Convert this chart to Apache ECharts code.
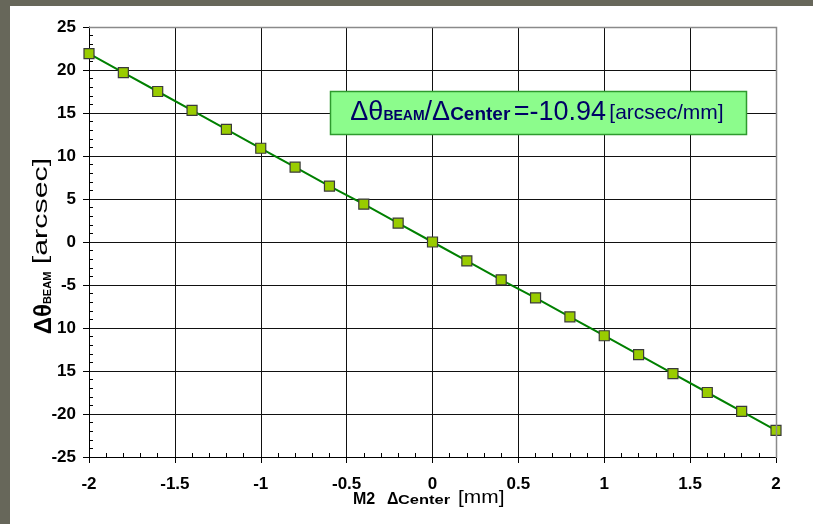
<!DOCTYPE html>
<html lang="en">
<head>
    <meta charset="UTF-8">
    <title>M2 center vs beam angle</title>
    <style>
        html, body { margin: 0; padding: 0; background: #67675a; }
    </style>
</head>
<body>
<div id="main" style="width: 813px;height:524px;"></div>
</body>
<script src="https://cdn.jsdelivr.net/npm/echarts@6/dist/echarts.min.js"></script>
<script type="text/javascript">
    // data
    var xValues = [-2, -1.8, -1.6, -1.4, -1.2, -1, -0.8, -0.6, -0.4, -0.2, 0,
        0.2, 0.4, 0.6, 0.8, 1, 1.2, 1.4, 1.6, 1.8, 2];
    var yValues = [21.9, 19.7, 17.5, 15.3, 13.1, 10.9, 8.7, 6.5, 4.4, 2.2, 0,
        -2.2, -4.4, -6.5, -8.7, -10.9, -13.1, -15.3, -17.5, -19.7, -21.9];
    // tick labels as printed (two minus signs are missing in the original)
    var yTickValues = [25, 20, 15, 10, 5, 0, -5, -10, -15, -20, -25];
    var yTickLabels = ['25', '20', '15', '10', '5', '0', '-5', '10', '15', '-20', '-25'];
    var slopeText = '-10.94';

    var points = [];
    for (var i = 0; i < xValues.length; i++) {
        points.push([xValues[i], yValues[i]]);
    }

    var myChart = echarts.init(document.getElementById('main'));
    var navy = '#000066';
    var ff = 'Liberation Sans';

    // small helper for a plain graphic text
    function label(txt, x, y, size, bold, opts) {
        var el = {
            type: 'text', x: x, y: y, z: 20,
            style: {
                text: txt, fontFamily: ff, fontSize: size,
                fontWeight: bold ? 'bold' : 'normal',
                fill: '#000', align: 'left', verticalAlign: 'middle'
            }
        };
        for (var k in (opts || {})) el[k] = opts[k];
        return el;
    }

    myChart.setOption({
        backgroundColor: '#67675a',
        animation: false,
        grid: {left: 89, right: 37, top: 27, bottom: 67},
        graphic: [
            // white panel
            {type: 'rect', z: -10, silent: true,
                shape: {x: 10, y: 6, width: 803, height: 518},
                style: {fill: '#ffffff'}},
            // slope box
            {type: 'rect', z: 10,
                shape: {x: 330.5, y: 91.5, width: 416, height: 43},
                style: {fill: '#8cfc8c', stroke: '#2e9a2e', lineWidth: 1.5}},
            {type: 'text', z: 11, x: 537, y: 113,
                style: {
                    text: '{a|Δθ}{b|BEAM}{a|/Δ}{c|Center} {a|=' + slopeText + '} {d|[arcsec/mm]}',
                    align: 'center', verticalAlign: 'middle',
                    rich: {
                        a: {fontFamily: ff, fontSize: 27, fill: navy, color: navy},
                        b: {fontFamily: ff, fontSize: 14, fontWeight: 'bold', fill: navy, color: navy, padding: [7, 0, 0, 0]},
                        c: {fontFamily: ff, fontSize: 19, fontWeight: 'bold', fill: navy, color: navy, padding: [4, 0, 0, 0]},
                        d: {fontFamily: ff, fontSize: 21, fill: navy, color: navy, padding: [1, 0, 0, 0]}
                    }
                }},
            // y axis title, read bottom to top
            {type: 'text', x: 44, y: 303, rotation: Math.PI / 2, z: 20,
                style: {
                    text: '{a|Δθ}{b|BEAM}',
                    align: 'center', verticalAlign: 'middle',
                    rich: {
                        a: {fontFamily: ff, fontSize: 24, fontWeight: 'bold', fill: '#000', color: '#000'},
                        b: {fontFamily: ff, fontSize: 11, fontWeight: 'bold', fill: '#000', color: '#000', padding: [7, 0, 0, 0]}
                    }
                }},
            {type: 'text', x: 41, y: 211, rotation: Math.PI / 2, scaleX: 1.45, z: 20,
                style: {
                    text: '[arcsec]', fontFamily: ff, fontSize: 21, fill: '#000',
                    align: 'center', verticalAlign: 'middle'
                }},
            // x axis title
            label('M2', 353, 500, 16, true),
            label('Δ', 387, 500, 16, true),
            label('Center', 398, 501, 12, true, {scaleX: 1.37}),
            label('[mm]', 458, 498, 19, false, {scaleX: 1.1}),
            // top and right frame
            {type: 'polyline', z: 5, silent: true,
                shape: {points: [[89, 27.5], [776.5, 27.5], [776.5, 458]]},
                style: {stroke: '#8a8a8a', lineWidth: 1.5, fill: null}}
        ],
        xAxis: {
            type: 'value',
            min: -2,
            max: 2,
            interval: 0.5,
            axisLine: {onZero: false, lineStyle: {color: '#000', width: 1}},
            axisTick: {show: true, length: 6, lineStyle: {color: '#000'}},
            minorTick: {show: true, splitNumber: 5, length: -4, lineStyle: {color: '#000'}},
            splitLine: {show: true, lineStyle: {color: '#111', width: 1}},
            axisLabel: {
                margin: 19,
                fontFamily: ff, fontSize: 17, fontWeight: 'bold', color: '#000'
            }
        },
        yAxis: {
            type: 'value',
            min: -25,
            max: 25,
            interval: 5,
            axisLine: {onZero: false, show: true, lineStyle: {color: '#000', width: 1}},
            axisTick: {show: true, length: 6, lineStyle: {color: '#000'}},
            minorTick: {show: true, splitNumber: 5, length: -4, lineStyle: {color: '#000'}},
            splitLine: {show: true, lineStyle: {color: '#111', width: 1}},
            axisLabel: {
                margin: 13,
                fontFamily: ff, fontSize: 17, fontWeight: 'bold', color: '#000',
                formatter: function (v) {
                    var k = yTickValues.indexOf(v);
                    return k >= 0 ? yTickLabels[k] : '';
                }
            }
        },
        series: [{
            type: 'line',
            data: points,
            symbol: 'rect',
            symbolSize: 10,
            lineStyle: {color: '#008000', width: 2},
            itemStyle: {color: '#99cc00', borderColor: '#3a3a3a', borderWidth: 1.2},
            z: 3
        }]
    });
</script>
</html>
